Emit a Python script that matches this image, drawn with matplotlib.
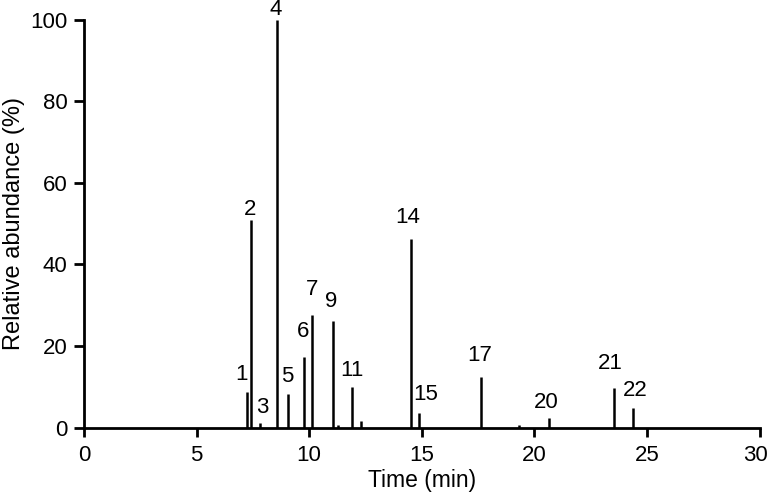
import matplotlib
matplotlib.use("Agg")
import matplotlib.pyplot as plt
from matplotlib.transforms import ScaledTranslation

plt.rcParams['font.family'] = ['Liberation Sans', 'DejaVu Sans']

# peaks (time in min, relative abundance in %)
peak_times = [7.22, 7.42, 7.82, 8.55, 9.08, 9.78, 10.13, 11.04, 11.30, 11.91,
              12.29, 14.52, 14.89, 17.61, 19.32, 20.66, 23.56, 24.36]
peak_heights = [8.6, 51.0, 1.1, 100.0, 8.1, 17.3, 27.5, 26.2, 0.5, 9.9,
                1.5, 46.2, 3.6, 12.3, 0.5, 2.4, 9.6, 4.8]
peak_labels = ['1', '2', '3', '4', '5', '6', '7', '9', '', '11',
               '', '14', '15', '17', '', '20', '21', '22']

x_ticks = [0, 5, 10, 15, 20, 25, 30]
y_ticks = [0, 20, 40, 60, 80, 100]

# label offset from the peak top, in pixels (dx, gap)
label_offsets = {'1': (-5, 12), '2': (-1, 5), '3': (2, 10), '4': (-1, 5),
                 '5': (-1, 12), '6': (-1, 20), '7': (0, 20), '9': (-1, 14),
                 '11': (0, 11), '14': (-3, 16), '15': (6, 13), '17': (-1, 16),
                 '20': (-3, 10), '21': (-4, 19), '22': (3, 12)}

fig = plt.figure(figsize=(7.7, 4.94), dpi=100)
ax = fig.add_axes([84 / 770, 1 - 427.5 / 494, 675.5 / 770, 407.5 / 494])

ax.vlines(peak_times, 0, peak_heights, color='black', linewidth=1.8)

px = 72 / 100
for t, h, lab in zip(peak_times, peak_heights, peak_labels):
    if not lab:
        continue
    dx, gap = label_offsets[lab]
    ax.annotate(lab, (t, h), xytext=(dx * px, gap * px), textcoords='offset points',
                ha='center', va='baseline', fontsize=16, annotation_clip=False)

ax.set_xlim(0, 30)
ax.set_ylim(0, 100)
ax.set_xticks(x_ticks)
ax.set_yticks(y_ticks)
ax.set_xlabel('Time (min)', fontsize=16.5, labelpad=2)
ax.set_ylabel('Relative abundance (%)', fontsize=17, labelpad=4)

for s in ['top', 'right']:
    ax.spines[s].set_visible(False)
for s in ['left', 'bottom']:
    ax.spines[s].set_linewidth(2)
ax.tick_params(axis='x', direction='out', length=6.5, width=2, labelsize=16, pad=6)
ax.tick_params(axis='y', direction='out', length=7, width=2, labelsize=16, pad=5)

# the last x label sits a little to the left in the original
last = ax.get_xticklabels()[-1]
last.set_transform(last.get_transform() + ScaledTranslation(-4 / 100, 0, fig.dpi_scale_trans))

fig.savefig('out.png', dpi=100)
